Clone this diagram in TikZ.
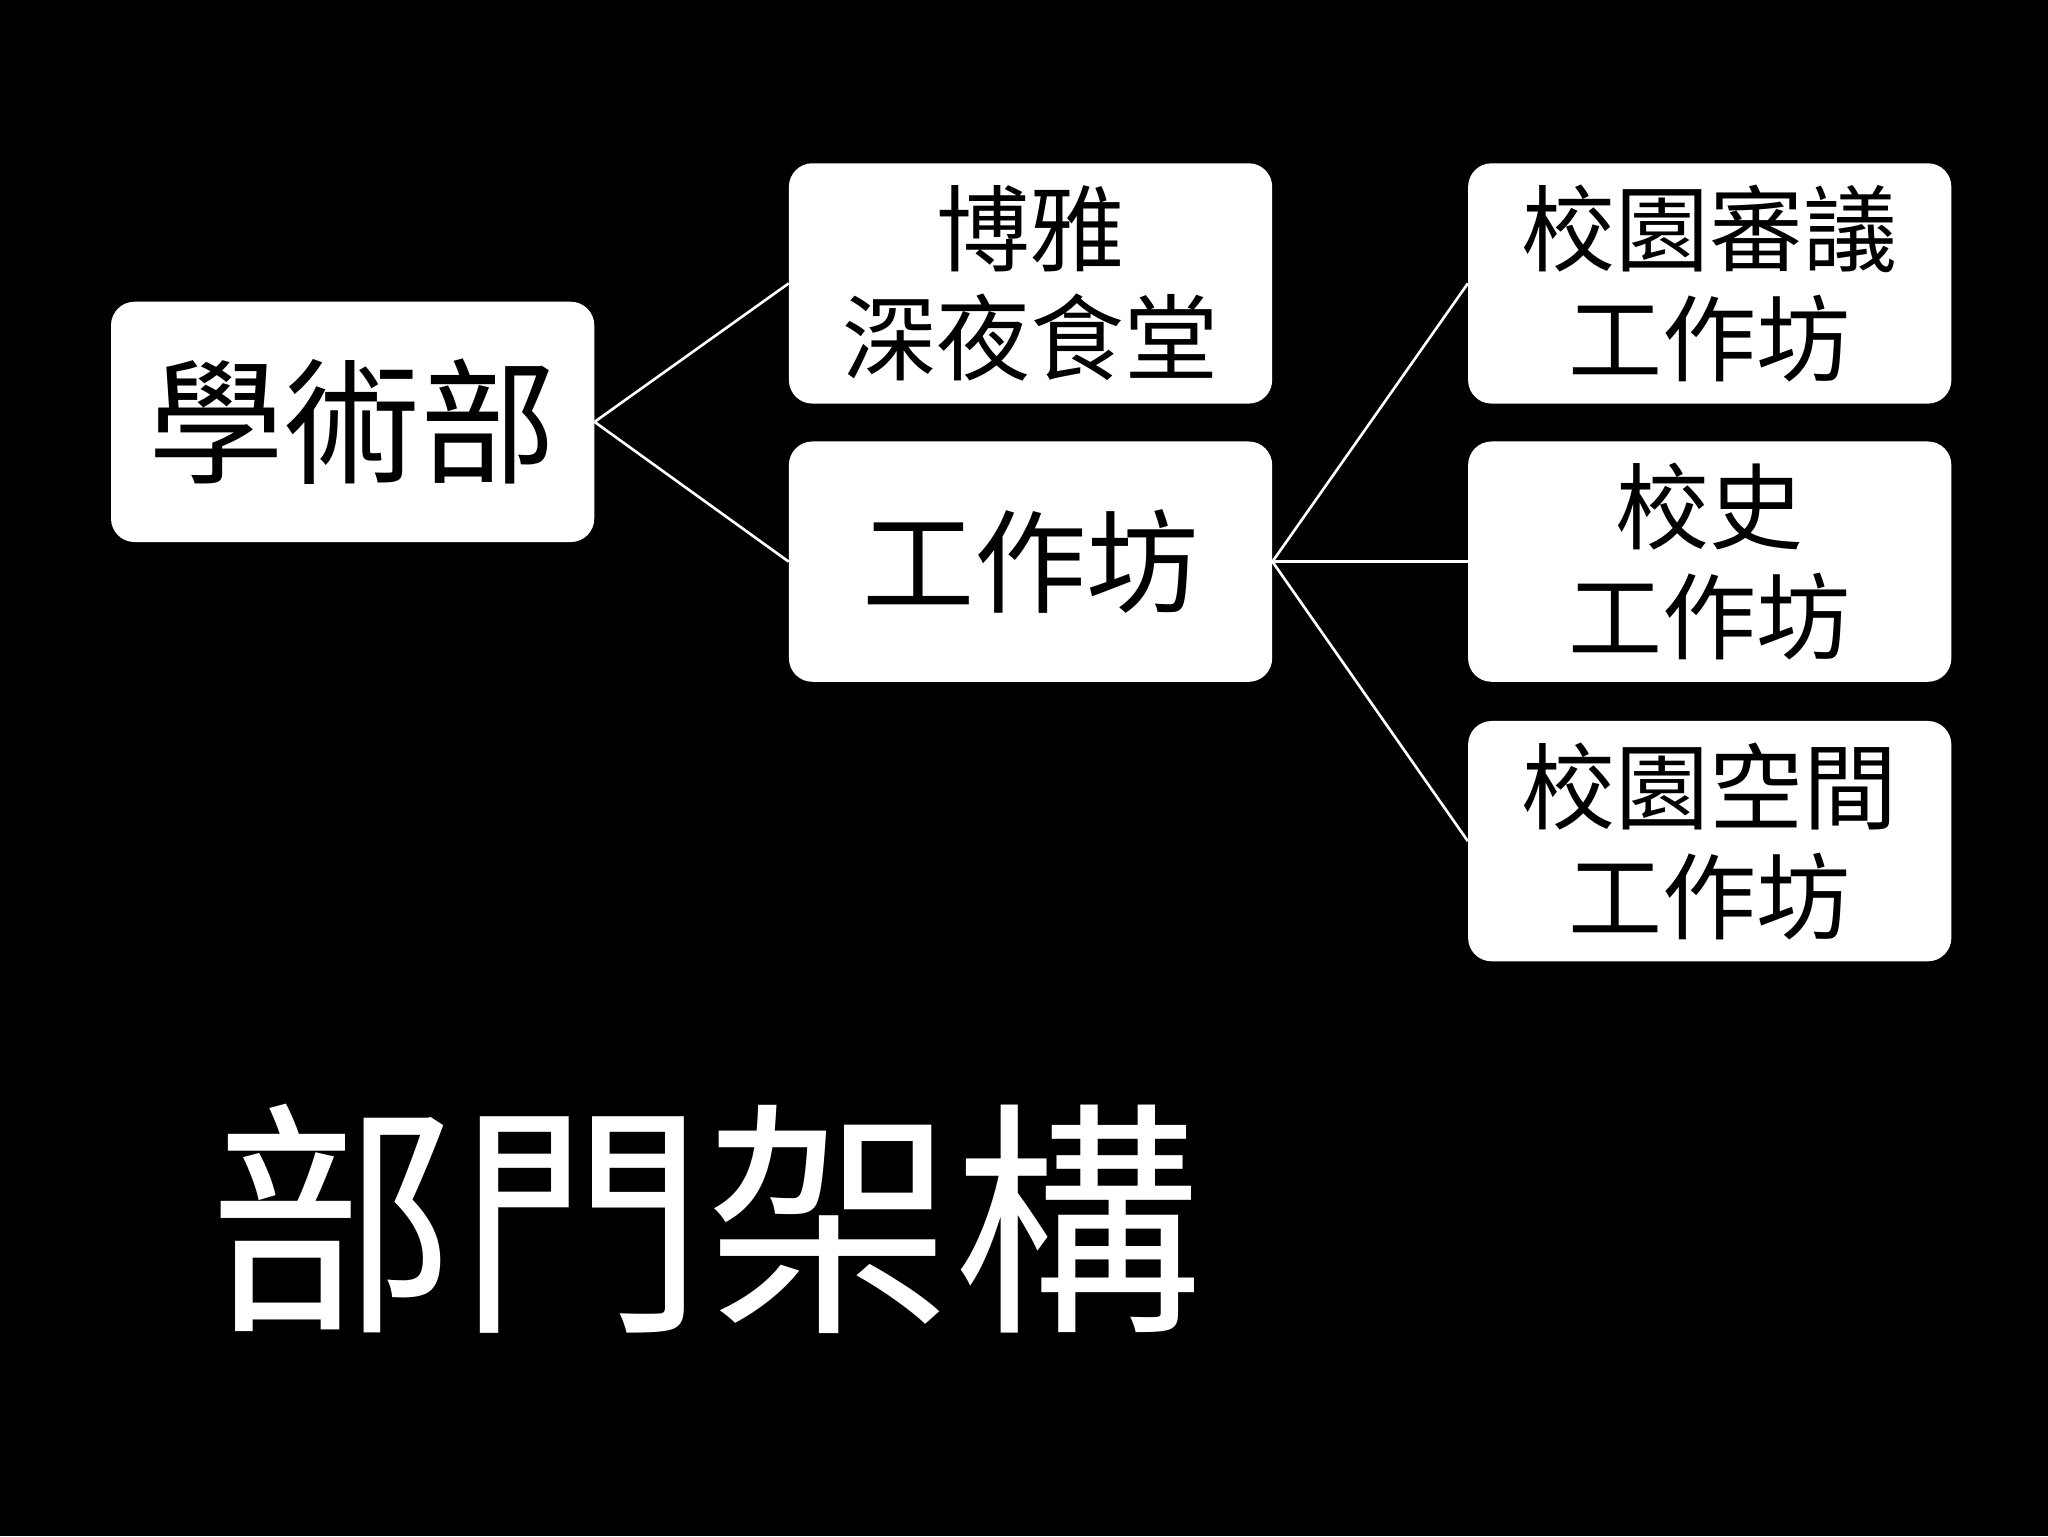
\documentclass[tikz,border=0pt]{standalone}
\usepackage{fontspec}
\newfontfamily\cjk{Noto Sans CJK TC}
\begin{document}
\begin{tikzpicture}[x=1pt,y=-1pt,
  box/.style={draw=none,fill=white,rounded corners=18pt,minimum width=370pt,minimum height=184pt,inner sep=0pt,align=center,text=black,font=\cjk\fontsize{72}{84}\selectfont},
  link/.style={draw=white,line width=2pt}]
\fill[black] (0,0) rectangle (1568,1176);
\useasboundingbox (0,0) rectangle (1568,1176);
\node[box,font=\cjk\fontsize{104}{110}\selectfont] (a) at (270,323) {學術部};
\node[box] (b) at (789,217) {博雅\\深夜食堂};
\node[box,font=\cjk\fontsize{86}{96}\selectfont] (c) at (789,430) {工作坊};
\node[box] (d) at (1309,217) {校園審議\\工作坊};
\node[box] (e) at (1309,430) {校史\\工作坊};
\node[box] (f) at (1309,644) {校園空間\\工作坊};
\node[text=white,font=\cjk\fontsize{190}{200}\selectfont,inner sep=0pt] (t) at (540,933) {部門架構};
\draw[link] (a.east) -- (b.west);
\draw[link] (a.east) -- (c.west);
\draw[link] (c.east) -- (d.west);
\draw[link] (c.east) -- (e.west);
\draw[link] (c.east) -- (f.west);
\end{tikzpicture}
\end{document}
